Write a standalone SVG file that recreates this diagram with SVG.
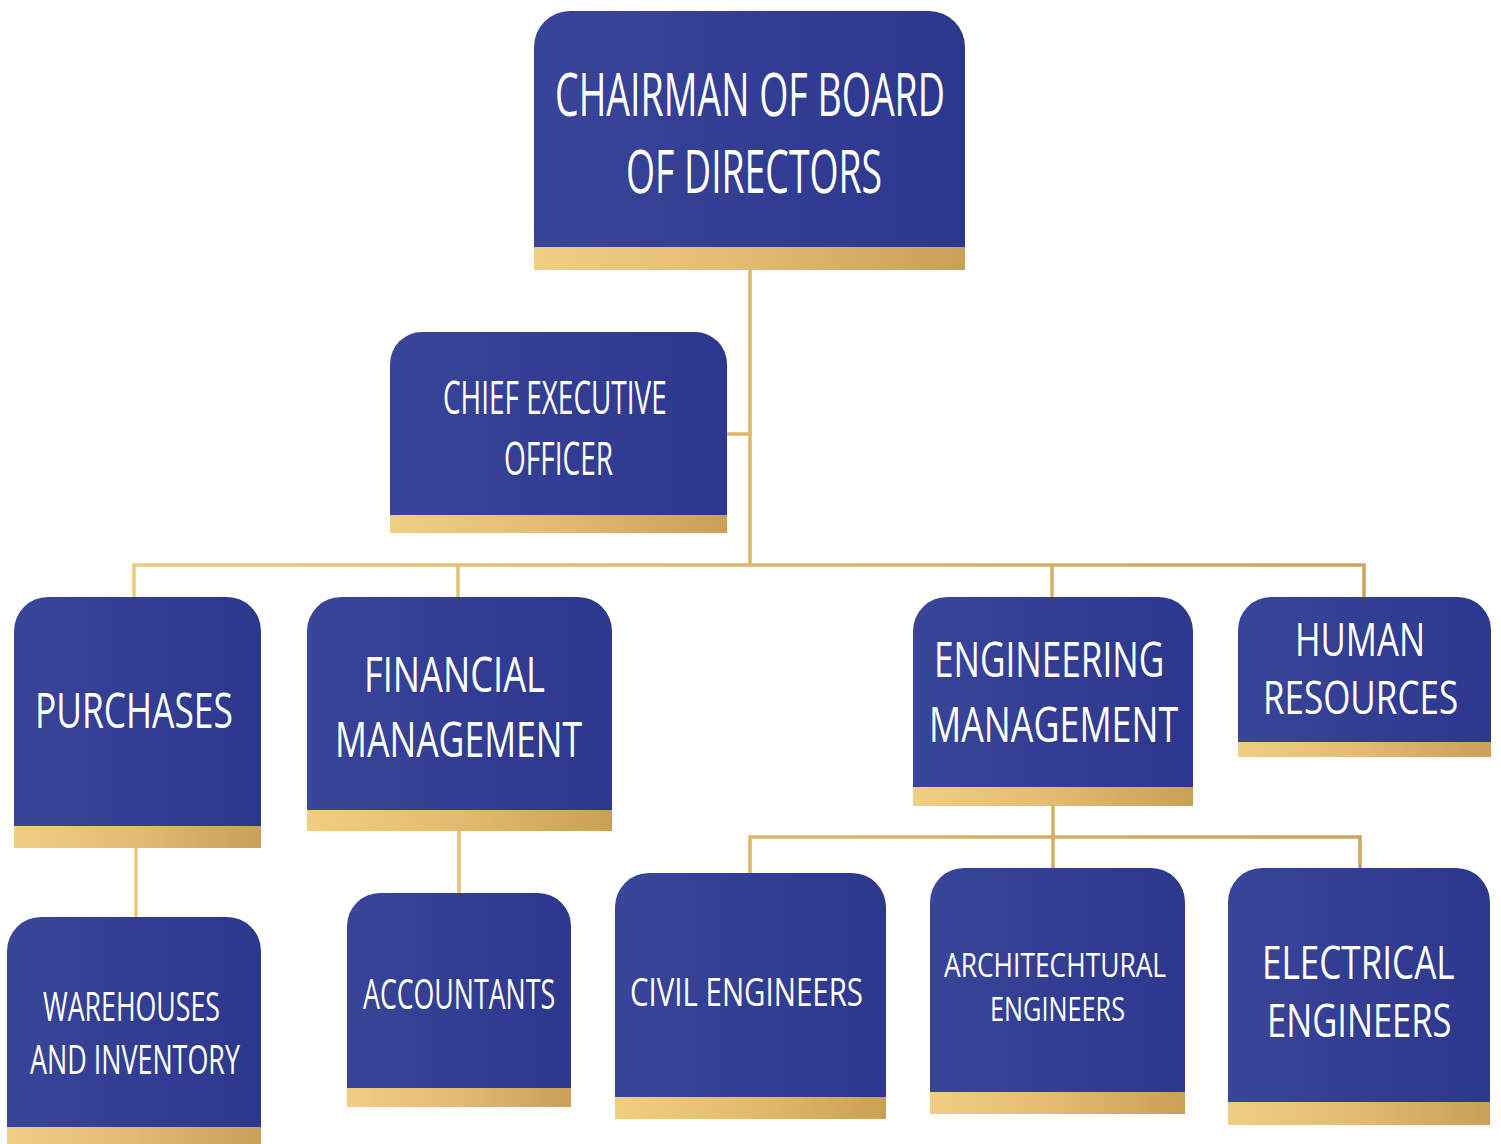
<svg xmlns="http://www.w3.org/2000/svg" width="1501" height="1144" viewBox="0 0 1501 1144">
<defs>
<linearGradient id="blue" x1="0" y1="0" x2="1" y2="0">
<stop offset="0" stop-color="#394598"/>
<stop offset="1" stop-color="#2c378e"/>
</linearGradient>
<linearGradient id="gold" x1="0" y1="0" x2="1" y2="0">
<stop offset="0" stop-color="#f0ce82"/>
<stop offset="0.5" stop-color="#e2bb70"/>
<stop offset="1" stop-color="#c9a055"/>
</linearGradient>
<linearGradient id="lineGold" gradientUnits="userSpaceOnUse" x1="0" y1="0" x2="1500" y2="0">
<stop offset="0" stop-color="#f0cf82"/>
<stop offset="1" stop-color="#c9a055"/>
</linearGradient>
</defs>
<style>
.box{fill:url(#blue);}
.bar{fill:url(#gold);}
.lbl{fill:#ffffff;font-family:"Open Sans","Noto Sans",sans-serif;font-weight:400;}
.conn{stroke:url(#lineGold);stroke-width:3.5;fill:none;stroke-linecap:butt;}
</style>
<rect width="1501" height="1144" fill="#ffffff"/>

<g id="connectors">
<path class="conn" d="M750 270 V565"/>
<path class="conn" d="M727 434 H751.7"/>
<path class="conn" d="M134 599 V565 H1364 V599"/>
<path class="conn" d="M458 565 V599"/>
<path class="conn" d="M1052 565 V599"/>
<path class="conn" d="M136 848 V917"/>
<path class="conn" d="M459 831 V895"/>
<path class="conn" d="M1053 806 V870"/>
<path class="conn" d="M750 875 V837 H1360 V870"/>
</g>

<g id="chairman">
<path class="box" d="M534 248 V47 A36 36 0 0 1 570 11 H929 A36 36 0 0 1 965 47 V248 Z"/>
<rect class="bar" x="534" y="247" width="431" height="23"/>
<text class="lbl" font-size="60" transform="translate(555 116) scale(0.625 1)" textLength="624" lengthAdjust="spacingAndGlyphs">CHAIRMAN OF BOARD</text>
<text class="lbl" font-size="60" transform="translate(626 193) scale(0.623 1)" textLength="411" lengthAdjust="spacingAndGlyphs">OF DIRECTORS</text>
</g>

<g id="ceo">
<path class="box" d="M390 516 V364 A32 32 0 0 1 422 332 H695 A32 32 0 0 1 727 364 V516 Z"/>
<rect class="bar" x="390" y="515" width="337" height="18"/>
<text class="lbl" font-size="46" transform="translate(443 414) scale(0.608 1)" textLength="368" lengthAdjust="spacingAndGlyphs">CHIEF EXECUTIVE</text>
<text class="lbl" font-size="46" transform="translate(504 475) scale(0.609 1)" textLength="179" lengthAdjust="spacingAndGlyphs">OFFICER</text>
</g>

<g id="purchases">
<path class="box" d="M14 827 V631 A34 34 0 0 1 48 597 H227 A34 34 0 0 1 261 631 V827 Z"/>
<rect class="bar" x="14" y="826" width="247" height="22"/>
<text class="lbl" font-size="49" transform="translate(35 728) scale(0.722 1)" textLength="274" lengthAdjust="spacingAndGlyphs">PURCHASES</text>
</g>

<g id="financial">
<path class="box" d="M307 811 V631 A34 34 0 0 1 341 597 H578 A34 34 0 0 1 612 631 V811 Z"/>
<rect class="bar" x="307" y="810" width="305" height="21"/>
<text class="lbl" font-size="50" transform="translate(364 692) scale(0.724 1)" textLength="250" lengthAdjust="spacingAndGlyphs">FINANCIAL</text>
<text class="lbl" font-size="50" transform="translate(335 757) scale(0.708 1)" textLength="349" lengthAdjust="spacingAndGlyphs">MANAGEMENT</text>
</g>

<g id="engineering">
<path class="box" d="M913 788 V631 A34 34 0 0 1 947 597 H1159 A34 34 0 0 1 1193 631 V788 Z"/>
<rect class="bar" x="913" y="787" width="280" height="19"/>
<text class="lbl" font-size="49" transform="translate(934 677) scale(0.715 1)" textLength="322" lengthAdjust="spacingAndGlyphs">ENGINEERING</text>
<text class="lbl" font-size="50" transform="translate(929 742) scale(0.714 1)" textLength="349" lengthAdjust="spacingAndGlyphs">MANAGEMENT</text>
</g>

<g id="hr">
<path class="box" d="M1238 743 V630 A33 33 0 0 1 1271 597 H1458 A33 33 0 0 1 1491 630 V743 Z"/>
<rect class="bar" x="1238" y="742" width="253" height="15"/>
<text class="lbl" font-size="46" transform="translate(1295 656) scale(0.752 1)" textLength="173" lengthAdjust="spacingAndGlyphs">HUMAN</text>
<text class="lbl" font-size="46" transform="translate(1263 714) scale(0.759 1)" textLength="257" lengthAdjust="spacingAndGlyphs">RESOURCES</text>
</g>

<g id="warehouses">
<path class="box" d="M7 1128 V951 A34 34 0 0 1 41 917 H227 A34 34 0 0 1 261 951 V1128 Z"/>
<rect class="bar" x="7" y="1127" width="254" height="17"/>
<text class="lbl" font-size="41" transform="translate(43 1021) scale(0.653 1)" textLength="271" lengthAdjust="spacingAndGlyphs">WAREHOUSES</text>
<text class="lbl" font-size="41" transform="translate(30 1074) scale(0.656 1)" textLength="320" lengthAdjust="spacingAndGlyphs">AND INVENTORY</text>
</g>

<g id="accountants">
<path class="box" d="M347 1089 V926 A33 33 0 0 1 380 893 H538 A33 33 0 0 1 571 926 V1089 Z"/>
<rect class="bar" x="347" y="1088" width="224" height="19"/>
<text class="lbl" font-size="42" transform="translate(363 1009) scale(0.636 1)" textLength="302" lengthAdjust="spacingAndGlyphs">ACCOUNTANTS</text>
</g>

<g id="civil">
<path class="box" d="M615 1098 V907 A34 34 0 0 1 649 873 H852 A34 34 0 0 1 886 907 V1098 Z"/>
<rect class="bar" x="615" y="1097" width="271" height="22"/>
<text class="lbl" font-size="38" transform="translate(630 1006) scale(0.774 1)" textLength="301" lengthAdjust="spacingAndGlyphs">CIVIL ENGINEERS</text>
</g>

<g id="architectural">
<path class="box" d="M930 1093 V902 A34 34 0 0 1 964 868 H1151 A34 34 0 0 1 1185 902 V1093 Z"/>
<rect class="bar" x="930" y="1092" width="255" height="22"/>
<text class="lbl" font-size="33" transform="translate(944 977) scale(0.799 1)" textLength="278" lengthAdjust="spacingAndGlyphs">ARCHITECHTURAL</text>
<text class="lbl" font-size="33" transform="translate(990 1021) scale(0.763 1)" textLength="177" lengthAdjust="spacingAndGlyphs">ENGINEERS</text>
</g>

<g id="electrical">
<path class="box" d="M1228 1103 V902 A34 34 0 0 1 1262 868 H1456 A34 34 0 0 1 1490 902 V1103 Z"/>
<rect class="bar" x="1228" y="1102" width="262" height="23"/>
<text class="lbl" font-size="45" transform="translate(1262 979) scale(0.78 1)" textLength="247" lengthAdjust="spacingAndGlyphs">ELECTRICAL</text>
<text class="lbl" font-size="46" transform="translate(1267 1037) scale(0.75 1)" textLength="246" lengthAdjust="spacingAndGlyphs">ENGINEERS</text>
</g>
</svg>
